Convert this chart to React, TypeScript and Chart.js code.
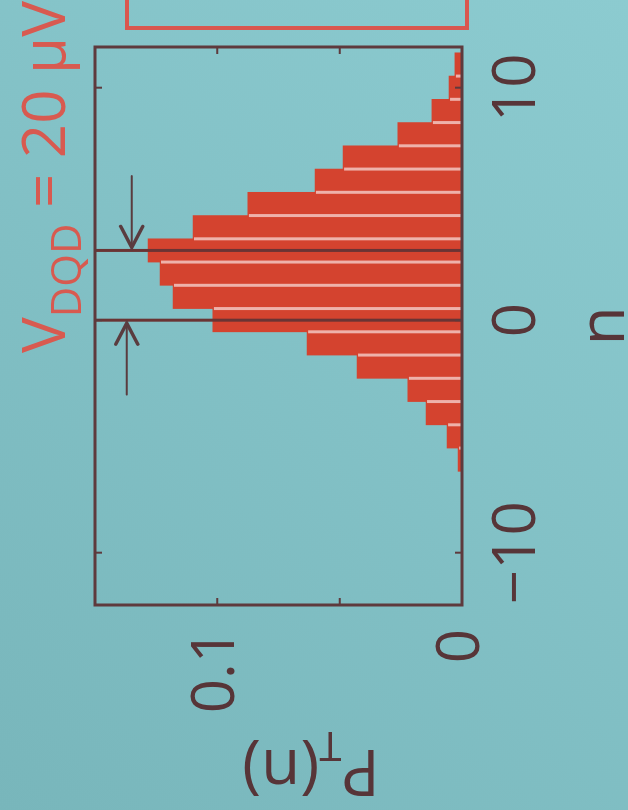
import React, { useEffect, useRef } from 'react';
import { Chart, registerables } from 'chart.js';

Chart.register(...registerables);

// ---- data ----
const N_VALUES = [-6, -5, -4, -3, -2, -1, 0, 1, 2, 3, 4, 5, 6, 7, 8, 9, 10, 11];
const P_VALUES = [
  0.0016, 0.0061, 0.0147, 0.0221, 0.0429, 0.0633, 0.1018, 0.1181, 0.1234,
  0.1283, 0.1099, 0.0875, 0.0601, 0.0486, 0.0262, 0.0123, 0.0053, 0.0029,
];
const X_TICKS = [-10, 0, 10];
const Y_TICKS = [0, 0.1];
const Y_MINOR_TICKS = [0.05, 0.1];
const MARKER_LINES = [0, 3];
const ARROW_FROM = [6.2, -3.2];
const ARROW_TO = [3, 0];
const ARROW_P = [0.135, 0.137];
const X_MIN = -12.25;
const X_MAX = 11.75;
const Y_MIN = 0;
const Y_MAX = 0.15;
const X_TITLE = 'n';
const Y_TITLE_MAIN = 'P';
const Y_TITLE_SUB = 'T';
const Y_TITLE_END = '(n)';
const TITLE_MAIN = 'V';
const TITLE_SUB = 'DQD';
const TITLE_END = ' = 20 \u03bcV';

// ---- styles ----
const FONT = '"Open Sans", "Noto Sans", sans-serif';
const BAR_COLOR = '#d4432f';
const SEP_COLOR = '#eeb2ab';
const FRAME_COLOR = '#5e3a3d';
const TEXT_COLOR = '#573538';
const LINE_COLOR = '#6a3434';
const TITLE_COLOR = '#d85a50';
const BOX_COLOR = '#d9574f';

const W = 810;
const H = 628;

const fmt = (v: number) => (v < 0 ? '\u2212' + String(Math.abs(v)) : String(v));

const decorPlugin = {
  id: 'decor',
  beforeDraw(chart: any) {
    const { ctx, width, height } = chart;
    ctx.save();
    const g = ctx.createLinearGradient(0, 0, width, height);
    g.addColorStop(0, '#78b6bb');
    g.addColorStop(1, '#8ccbd0');
    ctx.fillStyle = g;
    ctx.fillRect(0, 0, width, height);
    ctx.restore();
  },
  afterDatasetsDraw(chart: any) {
    const { ctx, chartArea } = chart;
    const x = chart.scales.x;
    const y = chart.scales.y;
    const y0 = y.getPixelForValue(0);
    ctx.save();
    // light separators between neighbouring bars
    ctx.strokeStyle = SEP_COLOR;
    ctx.lineWidth = 3;
    for (let i = 0; i < N_VALUES.length - 1; i++) {
      if (N_VALUES[i + 1] - N_VALUES[i] !== 1) continue;
      const bx = x.getPixelForValue((N_VALUES[i] + N_VALUES[i + 1]) / 2);
      const top = y.getPixelForValue(Math.min(P_VALUES[i], P_VALUES[i + 1]));
      ctx.beginPath();
      ctx.moveTo(bx, y0);
      ctx.lineTo(bx, top + 1);
      ctx.stroke();
    }
    // marker lines
    ctx.strokeStyle = LINE_COLOR;
    ctx.lineWidth = 3;
    MARKER_LINES.forEach((n) => {
      const px = x.getPixelForValue(n);
      ctx.beginPath();
      ctx.moveTo(px, y0);
      ctx.lineTo(px, chartArea.top);
      ctx.stroke();
    });
    // arrows
    ctx.strokeStyle = '#5a3c3f';
    ctx.lineCap = 'round';
    ARROW_FROM.forEach((from, i) => {
      const x1 = x.getPixelForValue(from);
      const x2 = x.getPixelForValue(ARROW_TO[i]);
      const py = y.getPixelForValue(ARROW_P[i]);
      const dir = Math.sign(x2 - x1);
      const tip = x2 - dir * 3;
      ctx.lineWidth = 2;
      ctx.beginPath();
      ctx.moveTo(x1, py);
      ctx.lineTo(tip, py);
      ctx.stroke();
      ctx.lineWidth = 3.5;
      ctx.beginPath();
      ctx.moveTo(tip - dir * 21, py - 11);
      ctx.lineTo(tip, py);
      ctx.lineTo(tip - dir * 21, py + 11);
      ctx.stroke();
    });
    ctx.restore();
  },
  afterDraw(chart: any) {
    const { ctx, chartArea } = chart;
    const x = chart.scales.x;
    const y = chart.scales.y;
    const { left, right, top, bottom } = chartArea;
    ctx.save();
    // frame
    ctx.strokeStyle = FRAME_COLOR;
    ctx.lineWidth = 3;
    ctx.strokeRect(left, top, right - left, bottom - top);
    // inward tick marks
    ctx.lineWidth = 2;
    Y_MINOR_TICKS.forEach((v) => {
      const py = y.getPixelForValue(v);
      ctx.beginPath();
      ctx.moveTo(left, py);
      ctx.lineTo(left + 7, py);
      ctx.moveTo(right, py);
      ctx.lineTo(right - 7, py);
      ctx.stroke();
    });
    X_TICKS.forEach((v) => {
      const px = x.getPixelForValue(v);
      ctx.beginPath();
      ctx.moveTo(px, bottom);
      ctx.lineTo(px, bottom - 7);
      ctx.moveTo(px, top);
      ctx.lineTo(px, top + 7);
      ctx.stroke();
    });

    // y-axis title P_T(n), rotated
    ctx.fillStyle = TEXT_COLOR;
    ctx.textBaseline = 'alphabetic';
    ctx.textAlign = 'left';
    const mainF = `64px ${FONT}`;
    const subF = `40px ${FONT}`;
    ctx.font = mainF;
    const wP = ctx.measureText(Y_TITLE_MAIN).width;
    const wN = ctx.measureText(Y_TITLE_END).width;
    ctx.font = subF;
    const wT = ctx.measureText(Y_TITLE_SUB).width;
    const total = wP + wT + wN;
    ctx.save();
    ctx.translate(60, chart.height / 2 - 3);
    ctx.rotate(-Math.PI / 2);
    let cx = -total / 2;
    ctx.font = mainF;
    ctx.fillText(Y_TITLE_MAIN, cx, 0);
    cx += wP;
    ctx.font = subF;
    ctx.fillText(Y_TITLE_SUB, cx, 18);
    cx += wT;
    ctx.font = mainF;
    ctx.fillText(Y_TITLE_END, cx, 0);
    ctx.restore();

    // panel title V_DQD = 20 µV
    ctx.fillStyle = TITLE_COLOR;
    let tx = left + 252;
    const ty = 65;
    ctx.font = `60px ${FONT}`;
    ctx.fillText(TITLE_MAIN, tx, ty);
    tx += ctx.measureText(TITLE_MAIN).width;
    ctx.font = `42px ${FONT}`;
    ctx.fillText(TITLE_SUB, tx, ty + 16);
    tx += ctx.measureText(TITLE_SUB).width;
    ctx.font = `60px ${FONT}`;
    ctx.fillText(TITLE_END, tx, ty);

    // edge of the neighbouring panel box
    ctx.strokeStyle = BOX_COLOR;
    ctx.lineWidth = 4;
    ctx.strokeRect(right + 19, top + 32, 80, 340);
    ctx.restore();
  },
};

export default function App() {
  const ref = useRef<HTMLCanvasElement | null>(null);

  useEffect(() => {
    document.body.style.margin = '0';
    document.body.style.background = '#82c1c6';
    const canvas = ref.current;
    if (!canvas) return;
    const chart = new Chart(canvas, {
      type: 'bar',
      data: {
        datasets: [
          {
            data: N_VALUES.map((n, i) => ({ x: n, y: P_VALUES[i] })),
            backgroundColor: BAR_COLOR,
            borderWidth: 0,
            barPercentage: 1,
            categoryPercentage: 1,
          },
        ],
      },
      options: {
        responsive: false,
        animation: false,
        devicePixelRatio: 1,
        layout: { padding: { top: 95, right: 47, left: 0, bottom: 0 } },
        plugins: {
          legend: { display: false },
          tooltip: { enabled: false },
          title: { display: false },
        },
        scales: {
          x: {
            type: 'linear',
            min: X_MIN,
            max: X_MAX,
            offset: false,
            position: 'bottom',
            grid: { display: false, drawTicks: false },
            border: { display: false },
            afterBuildTicks: (axis: any) => {
              axis.ticks = X_TICKS.map((v) => ({ value: v }));
            },
            afterFit: (axis: any) => {
              axis.height = 166;
            },
            ticks: {
              autoSkip: false,
              maxRotation: 0,
              minRotation: 0,
              padding: 20,
              color: TEXT_COLOR,
              font: { family: FONT, size: 60 },
              callback: (v: any) => fmt(Number(v)),
            },
            title: {
              display: true,
              text: X_TITLE,
              color: TEXT_COLOR,
              font: { family: FONT, size: 64, lineHeight: 0.7 },
              padding: 0,
            },
          },
          y: {
            type: 'linear',
            min: Y_MIN,
            max: Y_MAX,
            position: 'left',
            grid: { display: false, drawTicks: false },
            border: { display: false },
            afterBuildTicks: (axis: any) => {
              axis.ticks = Y_TICKS.map((v) => ({ value: v }));
            },
            afterFit: (axis: any) => {
              axis.width = 205;
            },
            ticks: {
              padding: 24,
              color: TEXT_COLOR,
              font: { family: FONT, size: 60 },
              callback: (v: any) => String(Number(v)),
            },
          },
        },
      } as any,
      plugins: [decorPlugin],
    });
    return () => chart.destroy();
  }, []);

  return (
    <div
      style={{
        position: 'fixed',
        left: 0,
        top: 0,
        width: 628,
        height: 810,
        overflow: 'hidden',
        background: '#82c1c6',
      }}
    >
      <div
        style={{
          position: 'absolute',
          left: 0,
          top: 0,
          width: W,
          height: H,
          transformOrigin: '0 0',
          transform: `translateY(${W}px) rotate(-90deg)`,
        }}
      >
        <canvas ref={ref} width={W} height={H} style={{ width: W, height: H, display: 'block' }} />
      </div>
    </div>
  );
}
